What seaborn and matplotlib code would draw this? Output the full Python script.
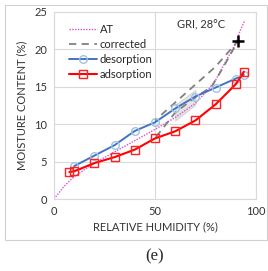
import numpy
import pandas
import seaborn
import matplotlib.pyplot as pyplot
from matplotlib.patches import Rectangle

# values
desorption_rh = [10, 20, 30, 40, 50, 60, 70, 80, 90, 94]
desorption_mc = [4.4, 5.8, 7.2, 9.1, 10.25, 12.1, 13.7, 14.9, 16.1, 16.6]

adsorption_rh = [7.6, 10, 20, 30, 40, 50, 60, 70, 80, 90, 94]
adsorption_mc = [3.6, 3.7, 4.8, 5.6, 6.6, 8.1, 9.05, 10.5, 12.65, 15.35, 17.0]

at_rh = [0, 5, 10, 20, 30, 40, 50, 60, 70, 76, 80, 85, 90, 92, 94.5]
at_mc = [0, 1.7, 3.0, 4.8, 6.3, 7.8, 9.3, 10.9, 12.8, 14.5, 15.9, 18.4, 20.8, 22.4, 23.9]

corrected_rh = [50.5, 60, 70, 78, 84, 91, 80, 70, 60, 50]
corrected_mc = [8.3, 10.5, 12.6, 15.0, 17.7, 21.1, 17.7, 14.6, 12.6, 10.5]

point_rh = [91.2]
point_mc = [21.1]

seaborn.set_style("white")
pyplot.rcParams["font.family"] = ["Lato", "DejaVu Sans"]

fig = pyplot.figure(figsize=(2.68, 2.71), dpi=100)
ax = fig.add_axes([54/268, 72/271, 202/268, 187/271])

grid = "#d9d9d9"
txt = "#333333"
ax.set_xlim(0, 100)
ax.set_ylim(0, 25)
ax.set_xticks([0, 50, 100])
ax.set_yticks([0, 5, 10, 15, 20, 25])
ax.grid(True, color=grid, linewidth=0.8)
ax.set_axisbelow(True)
for s in ax.spines.values():
    s.set_color(grid)
    s.set_linewidth(0.8)
ax.tick_params(length=0, labelsize=8, colors=txt, pad=5)

seaborn.lineplot(x=at_rh, y=at_mc, ax=ax, color="#e050c8", linestyle=(0, (1, 1)),
                 linewidth=1.0, label="AT", sort=False)
seaborn.lineplot(x=corrected_rh, y=corrected_mc, ax=ax, color="#808080", linestyle=(0, (4, 3)),
                 linewidth=1.3, label="corrected", sort=False)
seaborn.lineplot(x=desorption_rh, y=desorption_mc, ax=ax, color="#4472c4", linewidth=1.4,
                 marker="o", markersize=5.5, markerfacecolor="none", markeredgecolor="#9dc3e6",
                 markeredgewidth=1.0, label="desorption", sort=False)
seaborn.lineplot(x=adsorption_rh, y=adsorption_mc, ax=ax, color="#ff0000", linewidth=1.5,
                 marker="s", markersize=6, markerfacecolor="none", markeredgecolor="#ff2020",
                 markeredgewidth=1.0, label="adsorption", sort=False)
ax.plot(point_rh, point_mc, marker="+", color="black", markersize=8, markeredgewidth=1.8,
        linestyle="none")

ax.legend(loc="upper left", bbox_to_anchor=(0.05, 0.96), frameon=False, fontsize=8,
          handlelength=2.6, handletextpad=0.2, labelspacing=0.35, borderaxespad=0)

ax.text(0.73, 0.93, "GRI, 28\u00b0C", transform=ax.transAxes, ha="center", va="center",
        fontsize=8, color=txt)

ax.set_xlabel("RELATIVE HUMIDITY (%)", fontsize=8, color=txt, labelpad=3)
ax.set_ylabel("MOISTURE CONTENT (%)", fontsize=8, color=txt, labelpad=5)

fig.patches.append(Rectangle((5/268, 31/271), 262/268, 235/271, transform=fig.transFigure,
                             fill=False, edgecolor="#d0d0d0", linewidth=0.8))
fig.text(155/268, 1 - 256/271, "(e)", ha="center", va="center", fontsize=12,
         family="Liberation Serif")

fig.savefig("out.png", dpi=100)
